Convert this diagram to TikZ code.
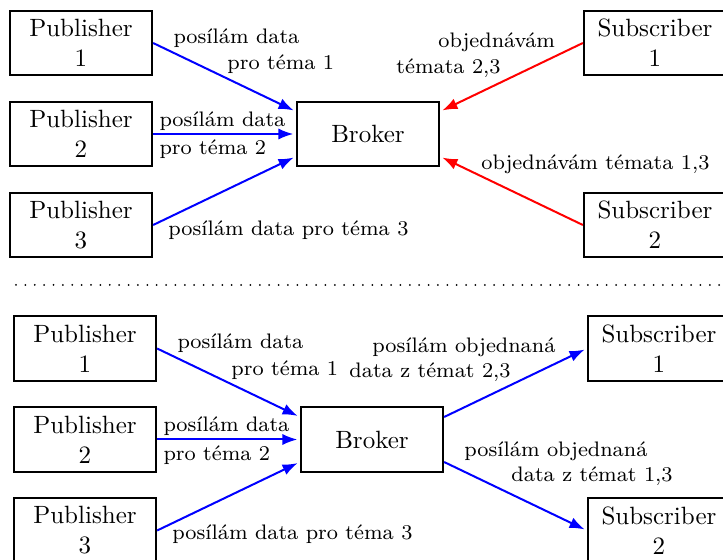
\documentclass[tikz,border=0pt]{standalone}
\usepackage{fontspec}
\usetikzlibrary{arrows.meta}

\begin{document}
\begin{tikzpicture}[x=0.4pt,y=-0.4pt,
    box/.style={draw,thick,align=center,minimum width=2cm,minimum height=0.9cm},
    lbl/.style={font=\fontsize{8.4}{10}\selectfont,inner sep=0pt,anchor=base west},
    pub/.style={-{Latex[length=6pt,width=4.5pt]},thick,blue,shorten >=1pt},
    sub/.style={-{Latex[length=6pt,width=4.5pt]},thick,red,shorten >=1pt}]

  \useasboundingbox (0,0) rectangle (723,560);

  % subscribers order topics
  \begin{scope}
    \node[box] (1) at (81,43)   {Publisher\\1};
    \node[box] (2) at (81,134)  {Publisher\\2};
    \node[box] (3) at (81,225)  {Publisher\\3};
    \node[box] (4) at (368,134) {Broker};
    \node[box] (5) at (655,43)  {Subscriber\\1};
    \node[box] (6) at (655,225) {Subscriber\\2};

    \draw[pub] (1.east) -- ([yshift=9pt]4.west);
    \draw[pub] (2.east) -- (4.west);
    \draw[pub] (3.east) -- ([yshift=-9pt]4.west);
    \draw[sub] (5.west) -- ([yshift=9pt]4.east);
    \draw[sub] (6.west) -- ([yshift=-9pt]4.east);

    \node[lbl] (l1) at (173,43)  {posílám data};
    \node[lbl] (l2) at (227,70)  {pro téma 1};
    \node[lbl] (l3) at (159,126) {posílám data};
    \node[lbl] (l4) at (159,155) {pro téma 2};
    \node[lbl] (l5) at (168,236) {posílám data pro téma 3};
    \node[lbl] (l6) at (438,48)  {objednávám};
    \node[lbl] (l7) at (396,74)  {témata 2,3};
    \node[lbl] (l8) at (481,170) {objednávám témata 1,3};
  \end{scope}

  \draw[thick,line cap=round,dash pattern=on 0pt off 3.75pt] (16,285) -- (723,285);

  % broker sends the ordered data
  \begin{scope}[shift={(4,305.5)}]
    \node[box] (7)  at (81,43)   {Publisher\\1};
    \node[box] (8)  at (81,134)  {Publisher\\2};
    \node[box] (9)  at (81,225)  {Publisher\\3};
    \node[box] (10) at (368,134) {Broker};
    \node[box] (11) at (655,43)  {Subscriber\\1};
    \node[box] (12) at (655,225) {Subscriber\\2};

    \draw[pub] (7.east) -- ([yshift=9pt]10.west);
    \draw[pub] (8.east) -- (10.west);
    \draw[pub] (9.east) -- ([yshift=-9pt]10.west);
    \draw[pub] ([yshift=9pt]10.east) -- (11.west);
    \draw[pub] ([yshift=-9pt]10.east) -- (12.west);

    \node[lbl] (l9)  at (173,43)  {posílám data};
    \node[lbl] (l10) at (227,70)  {pro téma 1};
    \node[lbl] (l11) at (159,126) {posílám data};
    \node[lbl] (l12) at (159,155) {pro téma 2};
    \node[lbl] (l13) at (168,234) {posílám data pro téma 3};
    \node[lbl] (l14) at (368,47)  {posílám objednaná};
    \node[lbl] (l15) at (345,72)  {data z témat 2,3};
    \node[lbl] (l16) at (460,151) {posílám objednaná};
    \node[lbl] (l17) at (507,176) {data z témat 1,3};
  \end{scope}

\end{tikzpicture}
\end{document}
